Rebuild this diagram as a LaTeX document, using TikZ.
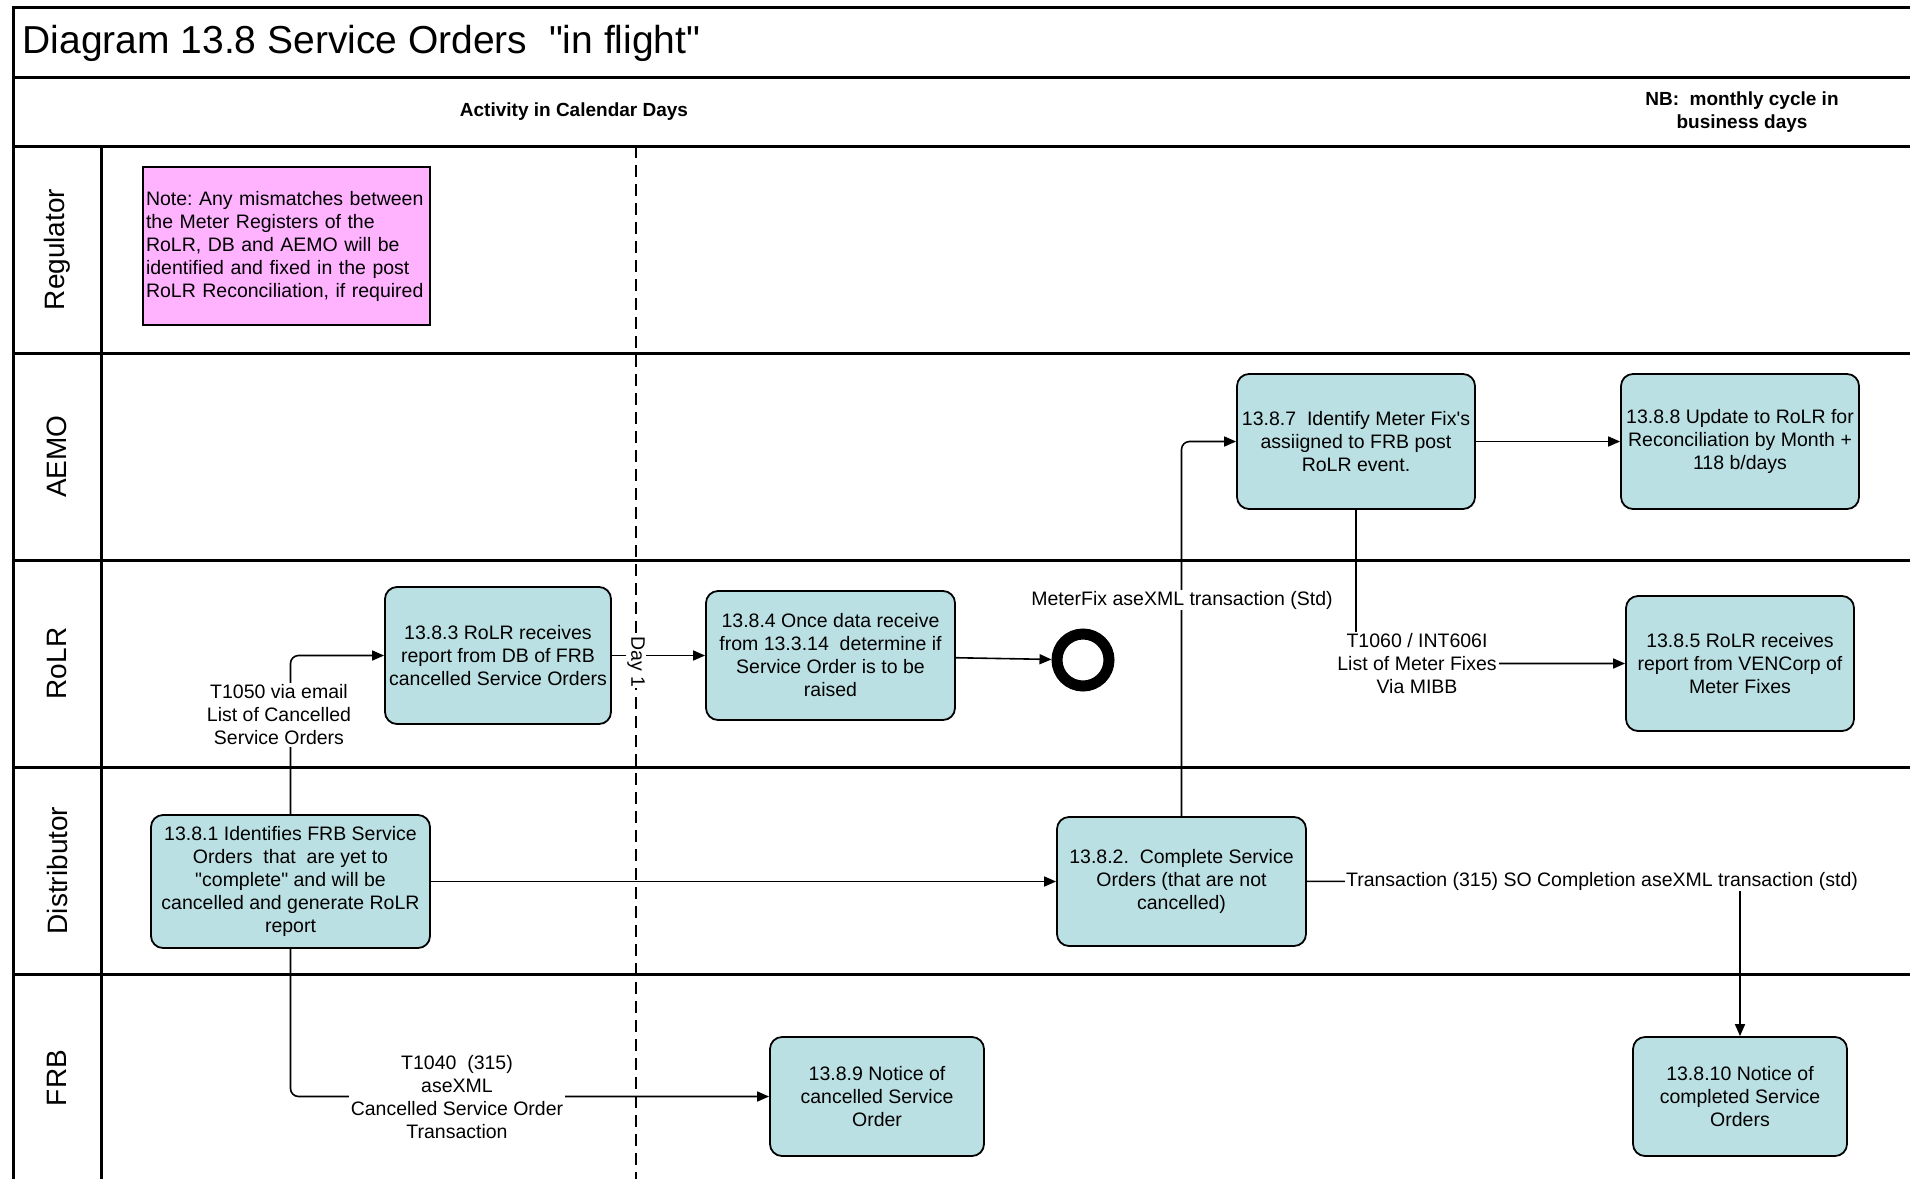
\documentclass[tikz,border=0pt]{standalone}
\usepackage{fontspec}
\setmainfont{Liberation Sans}[Ligatures=TeXOff]
\usetikzlibrary{arrows.meta}
\definecolor{taskfill}{HTML}{BBE0E3}
\definecolor{notefill}{HTML}{FFB3FF}
\frenchspacing
\begin{document}
\begin{tikzpicture}[x=1pt,y=-1pt,
  every node/.style={font=\fontsize{19.5}{23}\selectfont},
  task/.style={draw,line width=1.8pt,rounded corners=12pt,fill=taskfill,align=center,inner sep=2pt},
  flow/.style={line width=1.6pt,rounded corners=8pt,-{Triangle[length=12pt,width=10pt]}},
  lbl/.style={fill=white,align=center,inner sep=2pt},
  lane/.style={rotate=90,font=\fontsize{28}{32}\selectfont},
  head/.style={align=center,font=\bfseries\fontsize{19}{23}\selectfont},
  frame/.style={line width=3pt}]
  \useasboundingbox (0,0) rectangle (1910,1178);
  % pool and lanes
  \draw[frame] (1915,7) -- (13,7) -- (13,1190);
  \foreach \y in {77,146,353,560,767,974}
    \draw[frame] (13,\y) -- (1915,\y);
  \draw[frame] (101,146) -- (101,1190);
  \draw[line width=1.5pt,dash pattern=on 12pt off 7pt] (636,146) -- (636,1190);
  \node[anchor=west,font=\fontsize{39}{45}\selectfont] (title) at (19,43) {Diagram 13.8 Service Orders\ \ "in flight"};
  \node[head] (cal) at (574,112) {Activity in Calendar Days};
  \node[head] (bus) at (1742,112) {NB:\ \ monthly cycle in\\business days};
  \foreach \y/\name in {249.5/Regulator,456.5/AEMO,663.5/RoLR,870.5/Distributor,1078/FRB}
    \node[lane] at (57,\y) {\name};
  % activities
  \node[draw,line width=1.5pt,fill=notefill,minimum width=287pt,minimum height=158pt,
    text width=281pt,align=left,inner sep=3pt] (note) at (286.5,246)
    {Note: Any mismatches between\\the Meter Registers of the\\RoLR, DB and AEMO will be\\identified and fixed in the post\\RoLR Reconciliation, if required};
  \node[task,minimum width=279pt,minimum height=133pt] (s1) at (290.5,881.5)
    {13.8.1 Identifies FRB Service\\Orders\ \ that\ \ are yet to\\"complete" and will be\\cancelled and generate RoLR\\report};
  \node[task,minimum width=249pt,minimum height=129pt] (s2) at (1181.5,881.5)
    {13.8.2.\ \ Complete Service\\Orders (that are not\\cancelled)};
  \node[task,minimum width=226pt,minimum height=137pt] (s3) at (498,655.5)
    {13.8.3 RoLR receives\\report from DB of FRB\\cancelled Service Orders};
  \node[task,minimum width=249pt,minimum height=129pt] (s4) at (830.5,655.5)
    {13.8.4 Once data receive\\from 13.3.14\ \ determine if\\Service Order is to be\\raised};
  \node[task,minimum width=228pt,minimum height=135pt] (s5) at (1740,663.5)
    {13.8.5 RoLR receives\\report from VENCorp of\\Meter Fixes};
  \node[task,minimum width=238pt,minimum height=135pt] (s7) at (1356,441.5)
    {13.8.7\ \ Identify Meter Fix's\\assiigned to FRB post\\RoLR event.};
  \node[task,minimum width=238pt,minimum height=135pt] (s8) at (1740,441.5)
    {13.8.8 Update to RoLR for\\Reconciliation by Month +\\118 b/days};
  \node[task,minimum width=214pt,minimum height=119pt] (s9) at (877,1096.5)
    {13.8.9 Notice of\\cancelled Service\\Order};
  \node[task,minimum width=214pt,minimum height=119pt] (s10) at (1740,1096.5)
    {13.8.10 Notice of\\completed Service\\Orders};
  \node[circle,draw,line width=11pt,minimum size=52pt,inner sep=0pt] (end) at (1083,660) {};
  % flows
  \draw[flow] (s1.north) |- (s3.west);
  \node[lbl] (t1050) at (279,715) {T1050 via email\\List of Cancelled\\Service Orders};
  \draw[flow] (s3) -- (s4);
  \node[lbl,rotate=-90,inner sep=1pt] (day) at (636,662) {Day 1};
  \draw[flow] (s4) -- (end);
  \draw[flow] (s1) -- (s2);
  \draw[flow] (s2.north) |- (s7.west);
  \node[lbl,inner sep=1pt] (mfix) at (1182,600) {MeterFix aseXML transaction (Std)};
  \draw[flow] (s7) -- (s8);
  \draw[flow] (s7.south) |- (s5.west);
  \node[lbl] (t1060) at (1417,664) {T1060 / INT606I\\List of Meter Fixes\\Via MIBB};
  \draw[flow] (s1.south) |- (s9.west);
  \node[lbl] (t1040) at (457,1097) {T1040\ \ (315)\\aseXML\\Cancelled Service Order\\Transaction};
  \node[lbl,inner sep=1pt] (so) at (1602,881) {Transaction (315) SO Completion aseXML transaction (std)};
  \draw[line width=1.6pt] (s2) -- (so);
  \draw[flow] (so.south -| s10.north) -- (s10.north);
\end{tikzpicture}
\end{document}
